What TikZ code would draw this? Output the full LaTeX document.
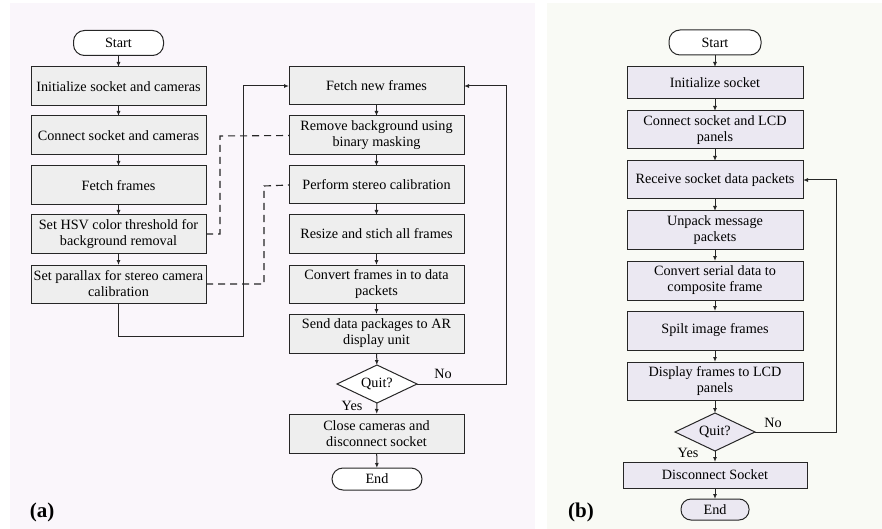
\documentclass[tikz,border=0pt]{standalone}
\usepackage{fontspec}
\setmainfont{Liberation Serif}
\usetikzlibrary{arrows.meta}
\usetikzlibrary{shapes.geometric}

\begin{document}
\begin{tikzpicture}[x=1pt, y=-1pt,
    %Option for nice arrows
    >={Latex[length=5pt,width=4pt]}, %
    inner sep=0pt, outer sep=0pt,%
    font=\fontsize{14.2}{16}\selectfont,
    flow/.style={draw=linegray, line width=1pt},
    link/.style={flow,->},
    hint/.style={flow,line width=1.1pt,dash pattern=on 7pt off 5pt},
    procbox/.style={draw=linegray, line width=1pt, fill=#1, rectangle,
        minimum width=175pt, minimum height=38pt, align=center},
    termbox/.style={draw=linegray, line width=1pt, fill=#1, rectangle,
        rounded corners=11pt, minimum width=90pt, minimum height=25pt},
    quitbox/.style={draw=linegray, line width=1pt, fill=#1, diamond,
        aspect=2.1, minimum width=80pt, minimum height=38pt},
    tag/.style={font=\fontsize{21}{23}\selectfont\bfseries},
]
    % Colors
    \definecolor{linegray}{HTML}{262626}
    \definecolor{pagea}{HTML}{FAF6FB}
    \definecolor{pageb}{HTML}{F9FAF5}
    \definecolor{boxa}{HTML}{EEEEEE}
    \definecolor{boxb}{HTML}{EBE8F2}

    % Frame
    \useasboundingbox[fill=white] (0,0) rectangle (882,529);
    \fill[pagea] (10,3) rectangle (535,529);
    \fill[pageb] (547,3) rectangle (882,529);

    % Panel (a), left column
    \node[termbox=white] (aStart) at (118.5,43) {Start};
    \node[procbox=boxa, minimum height=39pt] (aInit) at (118.5,86.5) {Initialize socket and cameras};
    \node[procbox=boxa, minimum height=39pt] (aConn) at (118.5,135.5) {Connect socket and cameras};
    \node[procbox=boxa, minimum height=39pt] (aFetch) at (118.5,185.5) {Fetch frames};
    \node[procbox=boxa] (aHsv) at (118.5,234) {Set HSV color threshold for\\background removal};
    \node[procbox=boxa] (aPar) at (118.5,284) {Set parallax for stereo camera\\calibration};

    % Panel (a), right column
    \node[procbox=boxa] (aNew) at (376.5,86) {Fetch new frames};
    \node[procbox=boxa, minimum height=39pt] (aMask) at (376.5,135.5) {Remove background using\\binary masking};
    \node[procbox=boxa] (aCal) at (376.5,185) {Perform stereo calibration};
    \node[procbox=boxa] (aStich) at (376.5,234) {Resize and stich all frames};
    \node[procbox=boxa] (aPack) at (376.5,284) {Convert frames in to data\\packets};
    \node[procbox=boxa, minimum height=39pt] (aSend) at (376.5,333.5) {Send data packages to AR\\display unit};
    \node[quitbox=white] (aQuit) at (377,384) {Quit?};
    \node[procbox=boxa, minimum height=39pt] (aClose) at (376.5,433.5) {Close cameras and\\disconnect socket};
    \node[termbox=white, minimum height=22pt] (aEnd) at (377,479) {End};

    \draw[link] (aStart) -- (aInit);
    \draw[link] (aInit) -- (aConn);
    \draw[link] (aConn) -- (aFetch);
    \draw[link] (aFetch) -- (aHsv);
    \draw[link] (aHsv) -- (aPar);
    \draw[link] (aPar.south) -- ++(0,33) -| (243,86) -- (aNew.west);
    \draw[hint] (aHsv.east) -| (220,136) -- (aMask.west);
    \draw[hint] (aPar.east) -| (264,186) -- (aCal.west);
    \draw[link] (aNew) -- (aMask);
    \draw[link] (aMask) -- (aCal);
    \draw[link] (aCal) -- (aStich);
    \draw[link] (aStich) -- (aPack);
    \draw[link] (aPack) -- (aSend);
    \draw[link] (aSend) -- (aQuit);
    \draw[link] (aQuit) -- (aClose);
    \draw[link] (aClose) -- (aEnd);
    \draw[link] (aQuit.east) -- (506,384) |- (aNew.east);
    \node (aNo) at (443,374) {No};
    \node (aYes) at (352,406) {Yes};
    \node[tag] (aTag) at (42,512) {(a)};

    % Panel (b)
    \node[termbox=white, minimum width=92pt] (bStart) at (715,42.5) {Start};
    \node[procbox=boxb, minimum width=176pt, minimum height=32pt] (bInit) at (715,83) {Initialize socket};
    \node[procbox=boxb, minimum width=176pt] (bConn) at (715,130) {Connect socket and LCD\\panels};
    \node[procbox=boxb, minimum width=176pt] (bRecv) at (715,180) {Receive socket data packets};
    \node[procbox=boxb, minimum width=176pt] (bUnp) at (715,230) {Unpack message\\packets};
    \node[procbox=boxb, minimum width=176pt, minimum height=39pt] (bSer) at (715,280.5) {Convert serial data to\\composite frame};
    \node[procbox=boxb, minimum width=176pt, minimum height=39pt] (bSplit) at (715,330.5) {Spilt image frames};
    \node[procbox=boxb, minimum width=176pt] (bDisp) at (715,381) {Display frames to LCD\\panels};
    \node[quitbox=boxb] (bQuit) at (715,432) {Quit?};
    \node[procbox=boxb, minimum width=184pt, minimum height=26pt] (bDisc) at (715,475) {Disconnect Socket};
    \node[termbox=boxb, minimum width=68pt, minimum height=21pt, rounded corners=10pt] (bEnd) at (715,509.5) {End};

    \draw[link] (bStart) -- (bInit);
    \draw[link] (bInit) -- (bConn);
    \draw[link] (bConn) -- (bRecv);
    \draw[link] (bRecv) -- (bUnp);
    \draw[link] (bUnp) -- (bSer);
    \draw[link] (bSer) -- (bSplit);
    \draw[link] (bSplit) -- (bDisp);
    \draw[link] (bDisp) -- (bQuit);
    \draw[link] (bQuit) -- (bDisc);
    \draw[link] (bDisc) -- (bEnd);
    \draw[link] (bQuit.east) -- (836,432) |- (bRecv.east);
    \node (bNo) at (773,423) {No};
    \node (bYes) at (688,453) {Yes};
    \node[tag] (bTag) at (581,512) {(b)};
\end{tikzpicture}
\end{document}
